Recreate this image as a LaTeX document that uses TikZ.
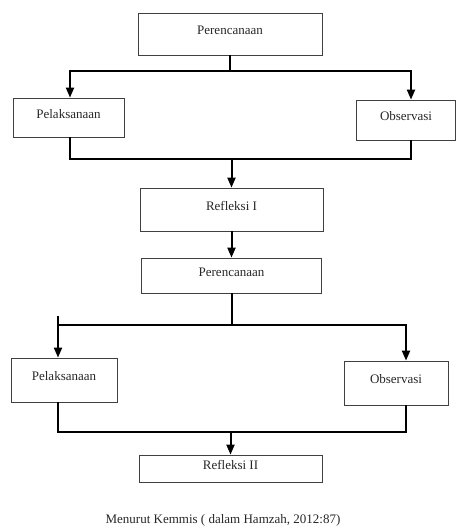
\documentclass[tikz,border=0pt]{standalone}
\usepackage{fontspec}
\setmainfont{Liberation Serif}
\usetikzlibrary{arrows.meta}
\begin{document}
\begin{tikzpicture}[x=1pt,y=-1pt,
    box/.style={draw=black!75, line width=0.8pt, inner sep=0pt, text=black!85,
      text height=9pt, text depth=8pt, font=\fontsize{13}{15}\selectfont},
    link/.style={line width=2pt, line join=miter},
    tip/.style={-{Triangle[length=10pt,width=8pt]}},
    tips/.style={{Triangle[length=10pt,width=8pt]}-{Triangle[length=10pt,width=8pt]}}]
    \useasboundingbox (0,0) rectangle (457,527);
    % first cycle
    \node[box, minimum width=184pt, minimum height=42pt] (plan1) at (230,34) {Perencanaan};
    \node[box, minimum width=111pt, minimum height=39pt] (pelak1) at (68.5,117.5) {Pelaksanaan};
    \node[box, minimum width=99pt, minimum height=40pt] (obs1) at (406,120) {Observasi};
    \node[box, minimum width=183pt, minimum height=43pt] (refl1) at (231.5,209.5) {Refleksi I};
    \coordinate (h1l) at (70,71);\coordinate (h1r) at (411,71);
    \coordinate (h2l) at (70,159);\coordinate (h2r) at (411,159);
    \draw[link] (plan1.south) -- (plan1.south |- h1l);
    \draw[link,tips] (pelak1.north -| h1l) -- (h1l) -- (h1r) -- (obs1.north -| h1r);
    \draw[link] (pelak1.south -| h2l) -- (h2l) -- (h2r) -- (obs1.south -| h2r);
    \draw[link,tip] (h2l -| refl1.north) -- (refl1.north);
    % second cycle
    \node[box, minimum width=180pt, minimum height=35pt] (plan2) at (231.5,275.5) {Perencanaan};
    \node[box, minimum width=106pt, minimum height=44pt] (pelak2) at (64,380) {Pelaksanaan};
    \node[box, minimum width=104pt, minimum height=44pt] (obs2) at (396,383) {Observasi};
    \node[box, minimum width=183pt, minimum height=27pt] (refl2) at (230.5,468.5) {Refleksi II};
    \coordinate (t3) at (58,316);
    \coordinate (h3l) at (58,325);\coordinate (h3r) at (406,325);
    \coordinate (h4l) at (58,432);\coordinate (h4r) at (406,432);
    \draw[link,tip] (refl1.south) -- (plan2.north);
    \draw[link] (plan2.south) -- (plan2.south |- h3l);
    \draw[link,tip] (t3) -- (pelak2.north -| t3);
    \draw[link,tip] (h3l) -- (h3r) -- (obs2.north -| h3r);
    \draw[link] (pelak2.south -| h4l) -- (h4l) -- (h4r) -- (obs2.south -| h4r);
    \draw[link,tip] (h4l -| refl2.north) -- (refl2.north);
    \node[text=black!85, font=\fontsize{13}{15}\selectfont] (cap) at (223,520) {Menurut Kemmis ( dalam Hamzah, 2012:87)};
\end{tikzpicture}
\end{document}
